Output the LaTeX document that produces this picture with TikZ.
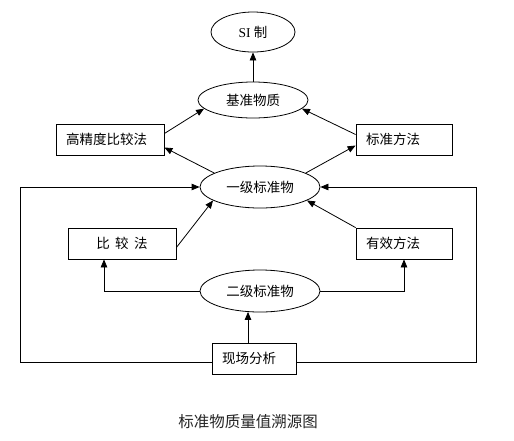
\documentclass[tikz,border=0pt]{standalone}
\usepackage{fontspec}
\newfontfamily\cjk{Noto Sans CJK SC}
\usetikzlibrary{shapes.geometric,arrows.meta,calc}
\begin{document}
\begin{tikzpicture}[x=1pt,y=-1pt,
  every node/.style={font=\cjk\fontsize{13.5}{15}\selectfont},
  ell/.style={draw,ellipse,inner sep=0pt,line width=0.8pt},
  boxl/.style={draw,rectangle,line width=0.8pt,minimum height=31pt,inner xsep=10pt,inner ysep=0pt,align=left},
  conn/.style={line width=0.8pt,-{Triangle[width=6.5pt,length=8pt]}},
  plain/.style={line width=0.8pt}]
\useasboundingbox (0,0) rectangle (514,440);
\fill[white] (0,0) rectangle (514,440);
% ellipses
\node[ell,minimum width=84pt,minimum height=40pt] (si) at (253,32) {\fontspec{Liberation Serif}SI \cjk 制};
\node[ell,minimum width=110pt,minimum height=36pt] (jz) at (253,100) {基准物质};
\node[ell,minimum width=120pt,minimum height=42pt] (yj) at (260,187) {一级标准物};
\node[ell,minimum width=120pt,minimum height=42pt] (ej) at (260,291) {二级标准物};
% boxes
\node[boxl,text width=88pt] (gj) at (110,139.5) {高精度比较法};
\node[boxl,text width=76pt] (bz) at (404,139.5) {标准方法};
\node[draw,rectangle,line width=0.8pt,minimum height=31pt,minimum width=108pt,inner sep=0pt] (bj) at (122,243.5) {比\hspace{0.4em}较\hspace{0.4em}法};
\node[boxl,text width=76pt] (yx) at (404,243.5) {有效方法};
\node[boxl,text width=64pt] (xc) at (254,358.5) {现场分析};
% caption
\node[font=\cjk\fontsize{15.5}{17}\selectfont,text=black!85] (cap) at (248,422) {标准物质量值溯源图};
% connectors
\draw[conn] (jz.north) -- (si.south);
\draw[conn] ([yshift=6pt]gj.east) -- (jz.190);
\draw[conn] ([yshift=5pt]bz.west) -- (jz.350);
\draw[conn] (yj.163) -- ([yshift=-8pt]gj.east);
\draw[conn] (yj.17) -- ([yshift=-6pt]bz.west);
\draw[conn] ([yshift=-4pt]bj.east) -- (yj.196);
\draw[conn] (yx.north west) -- (yj.344);
\coordinate (lb) at ([xshift=-18pt]bj.south);
\draw[conn] (ej.west) -| (lb);
\draw[conn] (ej.east) -| (yx.south);
\coordinate (xa) at ([xshift=-6pt]xc.north);
\coordinate (xb) at ($(xa |- ej.south)+(0,-0.5)$);
\draw[conn] (xa) -- (xb);
\coordinate (lt) at (20,187);
\coordinate (rt) at (476,187);
\draw[conn] ([yshift=-4pt]xc.west) -| (lt) -- (yj.west);
\draw[conn] ([yshift=-4pt]xc.east) -| (rt) -- (yj.east);
\end{tikzpicture}
\end{document}
